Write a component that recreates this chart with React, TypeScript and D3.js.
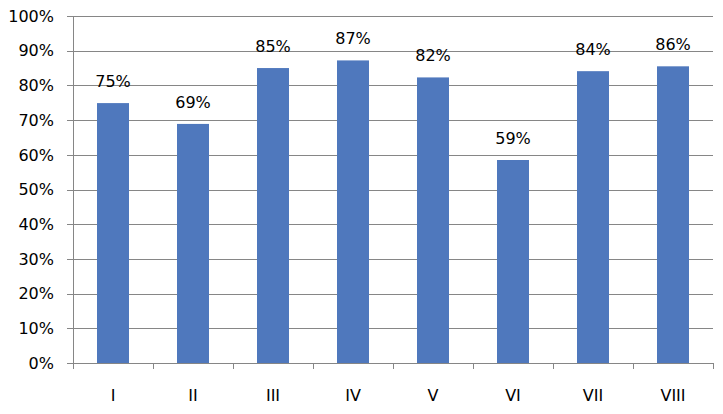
import React from "react";
import * as d3 from "d3";

const categories = ["I", "II", "III", "IV", "V", "VI", "VII", "VIII"];
const values = [0.749, 0.689, 0.85, 0.872, 0.823, 0.585, 0.841, 0.855];
const labels = ["75%", "69%", "85%", "87%", "82%", "59%", "84%", "86%"];
const yTicks = [0, 0.1, 0.2, 0.3, 0.4, 0.5, 0.6, 0.7, 0.8, 0.9, 1.0];

export default function App() {
  const W = 723, H = 414;
  const left = 73, right = 713, top = 16, bottom = 363;
  const x = d3.scaleBand<string>().domain(categories).range([left, right]).paddingInner(0).paddingOuter(0);
  const y = d3.scaleLinear().domain([0, 1]).range([bottom, top]);
  const barW = 32;
  const grid = "#868686";
  const font = "DejaVu Sans, Verdana, sans-serif";
  const fmt = d3.format(".0%");
  const bounds = categories.map((c) => x(c)!).concat([right]);
  return (
    <svg width={W} height={H} style={{ position: "absolute", left: 0, top: 0, background: "#fff" }}>
      {yTicks.map((t) => (
        <g key={t}>
          <line x1={left - 6} x2={t === 0 ? right : right} y1={Math.round(y(t)) + 0.5} y2={Math.round(y(t)) + 0.5} stroke={grid} strokeWidth={1} />
          <text x={54} y={y(t)} dy="0.36em" textAnchor="end" fontFamily={font} fontSize={16} fill="#000">
            {fmt(t)}
          </text>
        </g>
      ))}
      <line x1={left + 0.5} x2={left + 0.5} y1={top} y2={bottom + 6} stroke={grid} />
      {bounds.slice(1).map((b, i) => (
        <line key={i} x1={Math.round(b) + 0.5} x2={Math.round(b) + 0.5} y1={bottom} y2={bottom + 6} stroke={grid} />
      ))}
      {categories.map((c, i) => {
        const cx = x(c)! + x.bandwidth() / 2;
        return (
          <g key={c}>
            <rect x={cx - barW / 2} y={y(values[i])} width={barW} height={bottom - y(values[i])} fill="#4F78BD" />
            <text x={cx} y={y(values[i]) - 16} textAnchor="middle" fontFamily={font} fontSize={16} fill="#000">
              {labels[i]}
            </text>
            <text x={cx} y={401} textAnchor="middle" fontFamily={font} fontSize={16} fill="#000">
              {c}
            </text>
          </g>
        );
      })}
    </svg>
  );
}
